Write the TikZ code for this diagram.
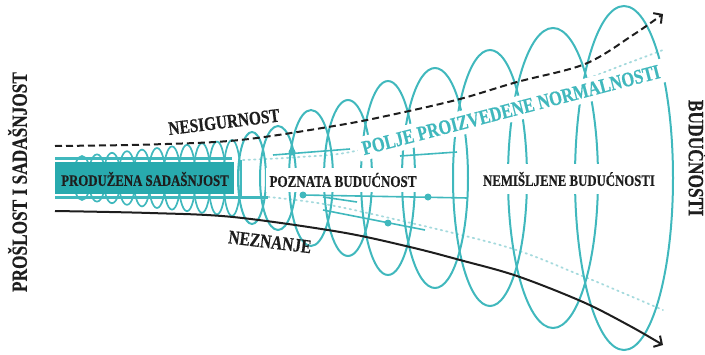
\documentclass[tikz,border=0pt]{standalone}
\usepackage{fontspec}
\setmainfont{Liberation Serif}[BoldFeatures={FakeBold=0.5}]
\usetikzlibrary{arrows.meta}
\definecolor{teal1}{RGB}{64,184,189}
\definecolor{tealbox}{RGB}{40,170,174}
\definecolor{teallight}{RGB}{165,218,221}
\definecolor{ink}{RGB}{30,30,30}
\newcommand{\cnd}[1]{\scalebox{0.8}[1]{#1}}
\begin{document}
\begin{tikzpicture}[x=1pt,y=-1pt,
  coil/.style={draw=teal1,line width=1.7pt},
  bigloop/.style={draw=teal1,line width=2pt},
  guide/.style={draw=teallight,line width=1.8pt,dash pattern=on 1.5pt off 4pt,line cap=round},
  pin/.style={draw=teal1,line width=1.6pt},
  pindot/.style={circle,fill=teal1,inner sep=0pt,minimum size=7pt},
  lbl/.style={text=ink,inner sep=0pt},
  masked/.style={fill=white,inner xsep=5pt,inner ysep=5pt},
  barb/.style={-{Straight Barb[length=6pt,width=13pt,line width=2pt]}}
]
\useasboundingbox (0,0) rectangle (705,354);

% dotted guide lines
\draw[guide] plot[smooth] coordinates {(243,160) (300,157) (360,150) (500,111) (623,65) (663,50)};
\draw[guide] plot[smooth] coordinates {(268,197) (340,207) (500,245) (580,275) (663,310)};

% narrow coil
\foreach \i in {0,...,10} {
  \pgfmathsetmacro\ccx{82+15*\i}
  \pgfmathsetmacro\rby{22+1.6*\i}
  \draw[coil] (\ccx,178) ellipse [x radius=8.5pt, y radius=\rby pt];
}
% widening loops
\foreach \ccx/\rax/\rby in {252/14/46, 278/18/52, 311/22/68, 348/24/78, 388/27/97, 435/33/110, 490/37/128, 553/45/150, 624/49/172} {
  \draw[bigloop] (\ccx,178) ellipse [x radius=\rax pt, y radius=\rby pt];
}

% texts on white ground that hide the loops behind them
\node[lbl, masked, rotate=14.6, text=teal1, font=\bfseries\fontsize{20.5}{22}\selectfont] (pol) at (511,110) {\cnd{POLJE PROIZVEDENE NORMALNOSTI}};
\node[lbl, masked, inner xsep=4pt, font=\bfseries\fontsize{16.3}{18}\selectfont] (poz) at (343,180) {\cnd{POZNATA BUDUĆNOST}};
\node[lbl, masked, inner ysep=8pt, font=\bfseries\fontsize{16}{18}\selectfont] (nem) at (569,179) {\cnd{NEMIŠLJENE BUDUĆNOSTI}};

% pins
\node[pindot] (d1) at (292,152) {};
\coordinate (p1a) at (273,155);
\coordinate (p1b) at (350,149);
\draw[pin] (p1a) -- (p1b);
\coordinate (p2a) at (400,156);
\coordinate (p2b) at (457,152);
\draw[pin] (p2a) -- (p2b);
\node[pindot] (d2) at (303,195) {};
\node[pindot] (d3) at (428,197) {};
\coordinate (p3b) at (468,198);
\draw[pin] (d2.center) -- (p3b);
\node[pindot] (d4) at (388,223) {};
\coordinate (p4a) at (323,210);
\coordinate (p4b) at (425,230);
\draw[pin] (p4a) -- (p4b);
\coordinate (p5a) at (323,197);
\coordinate (p5b) at (357,202);
\draw[pin] (p5a) -- (p5b);

% extended present bar
\draw[teal1, line width=2.5pt] (55,158.5) -- (232,158.5);
\draw[teal1, line width=2.5pt] (55,197.5) -- (268,197.5);
\draw[teal1, line width=2pt] (241,160) -- (241,198);
\fill[tealbox] (55,162) rectangle (234,194);
\node[lbl, font=\bfseries\fontsize{16}{18}\selectfont] (pro) at (145,179) {\cnd{PRODUŽENA SADAŠNJOST}};

% other texts
\node[lbl, rotate=7, font=\bfseries\fontsize{19.2}{21}\selectfont] (nes) at (224,122) {\cnd{NESIGURNOST}};
\node[lbl, rotate=-7, font=\bfseries\fontsize{19.3}{21}\selectfont] (nez) at (270,242) {\cnd{NEZNANJE}};
\node[lbl, rotate=90, font=\bfseries\fontsize{21.6}{23}\selectfont] (past) at (17.5,182) {\cnd{PROŠLOST I SADAŠNJOST}};
\node[lbl, rotate=-90, font=\bfseries\fontsize{21.8}{23}\selectfont] (fut) at (698,158) {\cnd{BUDUĆNOSTI}};

% uncertainty / ignorance curves
\draw[ink, line width=2pt, dash pattern=on 7pt off 4pt, barb] plot[smooth, tension=0.55] coordinates {(55,146) (150,144.5) (240,140) (340,125) (400,113) (460,99) (517,82) (585,64) (633,35) (663,14)};
\draw[ink, line width=2pt, barb] plot[smooth, tension=0.55] coordinates {(55,211) (150,213) (233,217) (340,232) (410,247) (460,260) (517,276) (583,302) (630,326) (663,345)};
\end{tikzpicture}
\end{document}
